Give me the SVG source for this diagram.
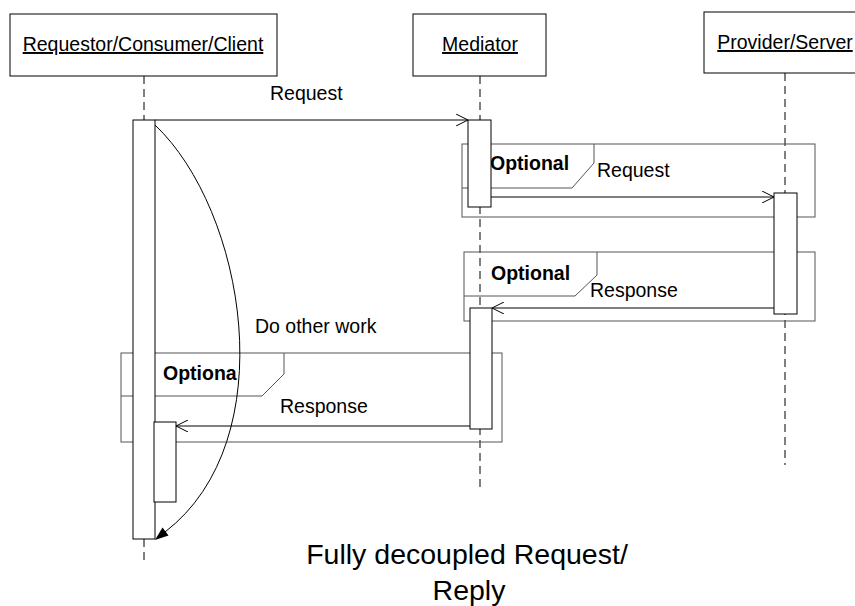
<svg xmlns="http://www.w3.org/2000/svg" width="855" height="606" viewBox="0 0 855 606">
<style>
.box{fill:#fff;stroke:#000;stroke-width:1}
.frag{fill:none;stroke:#555;stroke-width:1}
.act{fill:#fff;stroke:#000;stroke-width:1}
.life{stroke:#000;stroke-width:1;stroke-dasharray:8 5;fill:none}
.msg{stroke:#000;stroke-width:1;fill:none}
.t{font-family:"Liberation Sans",Arial,sans-serif;font-size:19.5px;fill:#000}
.u{text-decoration:underline}
.b{font-weight:bold}
</style>
<defs>
<marker id="open" viewBox="0 0 12 12" refX="12" refY="6" markerWidth="12" markerHeight="12" markerUnits="userSpaceOnUse" orient="auto">
<path d="M0,0 L12,6 L0,12" fill="none" stroke="#000" stroke-width="1"/>
</marker>
</defs>
<rect width="855" height="606" fill="#fff"/>
<g id="lifelines">
<line class="life" x1="144" y1="76" x2="144" y2="120"/>
<line class="life" x1="144" y1="539" x2="144" y2="560"/>
<line class="life" x1="480" y1="76" x2="480" y2="490"/>
<line class="life" x1="785" y1="73" x2="785" y2="465"/>
</g>
<g id="client"><rect class="box" x="10" y="14" width="267" height="62"/><text class="t u" x="143" y="51" text-anchor="middle">Requestor/Consumer/Client</text></g>
<g id="mediator"><rect class="box" x="413" y="14" width="133" height="62"/><text class="t u" x="480" y="51" text-anchor="middle">Mediator</text></g>
<g id="provider"><rect class="box" x="704" y="12" width="160" height="61"/><text class="t u" x="785" y="49" text-anchor="middle">Provider/Server</text></g>
<g id="opt1">
<rect class="frag" x="462" y="144" width="353" height="73"/>
<path class="frag" d="M594,144 V163 L572,188 H462"/>
<text class="t b" x="490" y="170">Optional</text>
</g>
<g id="opt2">
<rect class="frag" x="464" y="252" width="351" height="69"/>
<path class="frag" d="M597,252 V275 L575,296 H464"/>
<text class="t b" x="491" y="280">Optional</text>
</g>
<g id="opt3">
<rect class="frag" x="121" y="353" width="381" height="89"/>
<path class="frag" d="M284,353 V374 L262,396 H121"/>
</g>
<g id="activations">
<rect class="act" x="133" y="120" width="22" height="419"/>
<rect class="act" x="468" y="120" width="23" height="87"/>
<rect class="act" x="774" y="193" width="23" height="121"/>
<rect class="act" x="470" y="308" width="22" height="121"/>
<rect class="act" x="154" y="422" width="22" height="80"/>
</g>
<text class="t b" x="163" y="380">Optiona</text>
<g id="connectors">
<line class="msg" x1="155" y1="120" x2="468" y2="120" marker-end="url(#open)"/>
<line class="msg" x1="491" y1="197" x2="774" y2="197" marker-end="url(#open)"/>
<line class="msg" x1="774" y1="308" x2="492" y2="308" marker-end="url(#open)"/>
<line class="msg" x1="470" y1="426" x2="176" y2="426" marker-end="url(#open)"/>
<path class="msg" d="M155,125 C245,210 285,440 165,532"/>
<polygon points="155,540 168.5,535.5 162.5,527.5" fill="#000"/>
</g>
<g id="labels">
<text class="t" x="270" y="100">Request</text>
<text class="t" x="597" y="177">Request</text>
<text class="t" x="590" y="297">Response</text>
<text class="t" x="255" y="333">Do other work</text>
<text class="t" x="280" y="413">Response</text>
</g>
<g id="caption">
<text class="t" x="467" y="564" text-anchor="middle" style="font-size:28.5px">Fully decoupled Request/</text>
<text class="t" x="469" y="600" text-anchor="middle" style="font-size:28.5px">Reply</text>
</g>
</svg>
